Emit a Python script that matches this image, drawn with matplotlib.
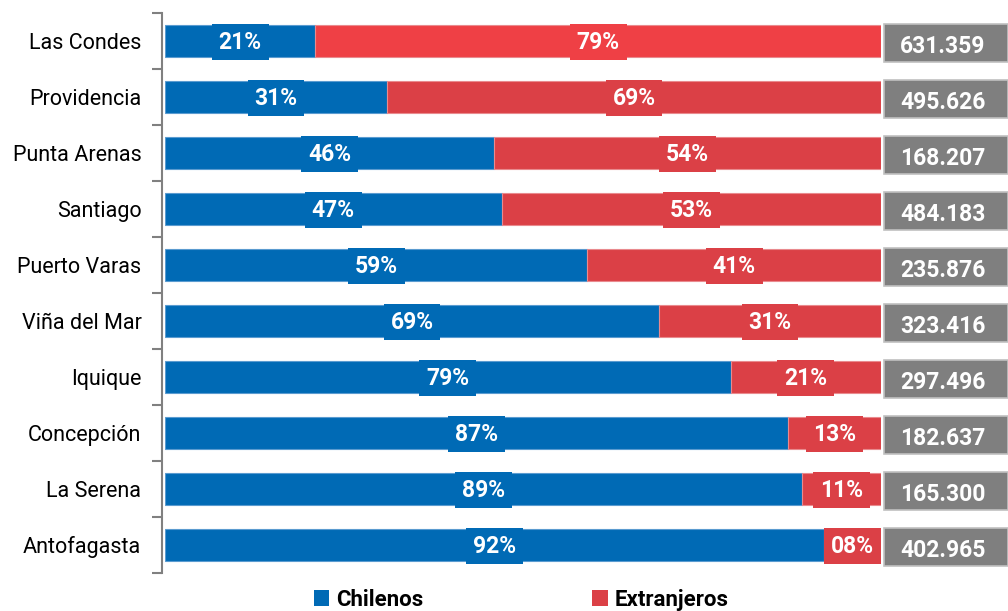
import matplotlib.pyplot as plt
from matplotlib.patches import Patch

ciudades = ['Las Condes', 'Providencia', 'Punta Arenas', 'Santiago', 'Puerto Varas',
            'Viña del Mar', 'Iquique', 'Concepción', 'La Serena', 'Antofagasta']
chilenos = [21, 31, 46, 47, 59, 69, 79, 87, 89, 92]
extranjeros = [79, 69, 54, 53, 41, 31, 21, 13, 11, 8]
totales = ['631.359', '495.626', '168.207', '484.183', '235.876',
           '323.416', '297.496', '182.637', '165.300', '402.965']

azul = '#006AB5'
rojo = '#DB4046'
rojo_top = '#EF4045'
gris = '#7F7F7F'

fuente = ['Roboto', 'DejaVu Sans']

fig = plt.figure(figsize=(10.08, 6.11), dpi=100)
ax = fig.add_axes([165 / 1008, 38 / 611, 716 / 1008, 560 / 611])

y = list(range(len(ciudades)))
rojos = [rojo_top] + [rojo] * (len(ciudades) - 1)
ax.barh(y, chilenos, height=0.57, color=azul, edgecolor='#5A9BD0', linewidth=0.8)
ax.barh(y, extranjeros, left=chilenos, height=0.57, color=rojos, edgecolor='#E98A8E', linewidth=0.8)

for i in y:
    ax.text(chilenos[i] / 2, i + 0.02, f'{chilenos[i]:02d}%', ha='center', va='center',
            color='white', fontsize=16.5, fontweight='bold', family=fuente,
            bbox=dict(boxstyle='square,pad=0.3', facecolor=azul, edgecolor='none'))
    ax.text(chilenos[i] + extranjeros[i] / 2, i + 0.02, f'{extranjeros[i]:02d}%', ha='center',
            va='center', color='white', fontsize=16.5, fontweight='bold', family=fuente,
            bbox=dict(boxstyle='square,pad=0.3', facecolor=rojos[i], edgecolor='none'))
    # caja gris con el total
    ax.add_patch(plt.Rectangle((100.45, i - 0.31), 17.3, 0.68, facecolor=gris,
                               edgecolor='#C0C0C0', linewidth=1.2, clip_on=False))
    ax.text(108.6, i + 0.1, totales[i], ha='center', va='center', color='white',
            fontsize=16.5, fontweight='bold', family=fuente, clip_on=False)

ax.set_xlim(0, 100)
ax.set_ylim(9.5, -0.5)
ax.set_yticks(y)
ax.set_yticklabels(ciudades)
ax.set_yticks([v - 0.5 for v in range(len(ciudades) + 1)], minor=True)
ax.tick_params(axis='y', which='major', length=0, pad=15, labelsize=15.5, labelfontfamily='Roboto')
ax.tick_params(axis='y', which='minor', length=7, width=1.5, color='#808080')
ax.set_xticks([])
for s in ['top', 'right', 'bottom']:
    ax.spines[s].set_visible(False)
ax.spines['left'].set_color('#808080')
ax.spines['left'].set_linewidth(1.5)
ax.spines['left'].set_position(('outward', 2))

handles = [Patch(facecolor=azul, label='Chilenos'), Patch(facecolor=rojo, label='Extranjeros')]
fig.legend(handles=handles, loc='center', bbox_to_anchor=(0.517, 0.018), ncol=2, frameon=False,
           handlelength=0.7, handleheight=0.7, handletextpad=0.3, columnspacing=7.6,
           prop={'family': fuente, 'weight': 'bold', 'size': 16})

fig.savefig('out.png', dpi=100)
